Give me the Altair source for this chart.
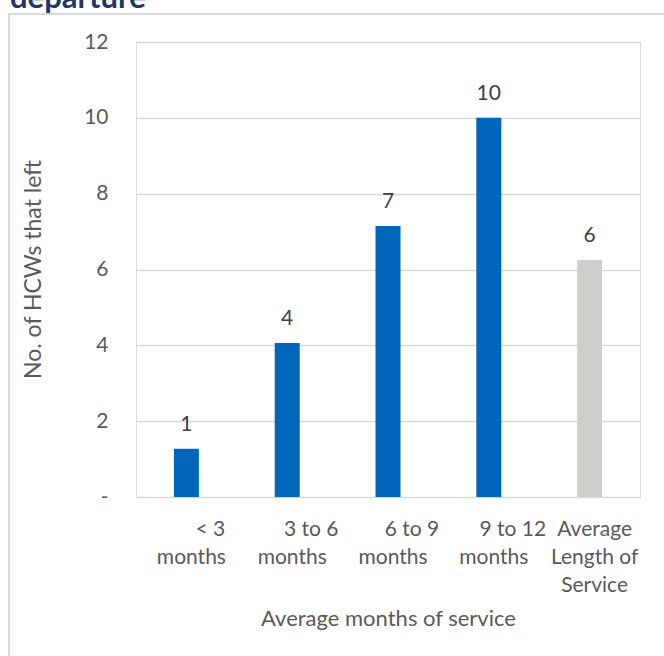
import altair as alt
import pandas as pd
import json

# ---- data ----
categories = ["< 3 months", "3 to 6 months", "6 to 9 months", "9 to 12 months", "Average Length of Service"]
values = [1.27, 4.06, 7.15, 10.0, 6.25]
value_labels = ["1", "4", "7", "10", "6"]
bar_colors = ["#0066BB", "#0066BB", "#0066BB", "#0066BB", "#D0CECB"]
# first label line (drawn shifted right, as in the reference)
tick_line1 = ["< 3", "3 to 6", "6 to 9", "9 to 12", ""]
# remaining label lines
tick_rest = [["", "months"], ["", "months"], ["", "months"], ["", "months"],
             ["Average", "Length of", "Service"]]
y_ticks = [0, 2, 4, 6, 8, 10, 12]
title_text = "departure"

FONT = "Lato"
AXIS_COLOR = "#595959"
GRID = "#D9D9D9"

df = pd.DataFrame({
    "category": categories,
    "value": values,
    "label": value_labels,
    "color": bar_colors,
})

expr1 = f"{json.dumps(dict(zip(categories, tick_line1)))}[datum.value]"
expr2 = f"{json.dumps(dict(zip(categories, tick_rest)))}[datum.value]"

common_axis = dict(
    labelAngle=0,
    labelFont=FONT,
    labelFontSize=21,
    labelColor=AXIS_COLOR,
    labelLineHeight=28,
    labelPadding=21,
    labelAlign="center",
    labelBaseline="top",
    domain=False,
    ticks=False,
    grid=False,
    orient="bottom",
)

x_scale = alt.Scale(paddingInner=0.75, paddingOuter=0.375)

x_enc_a = alt.X(
    "category:N", sort=categories, scale=x_scale,
    axis=alt.Axis(title=None, labelExpr=expr1, labelOffset=24, **common_axis),
)
x_enc_b = alt.X(
    "category:N", sort=categories, scale=x_scale,
    axis=alt.Axis(
        title="Average months of service",
        labelExpr=expr2,
        labelOffset=5,
        titleFont=FONT,
        titleFontSize=22,
        titleFontWeight="normal",
        titleColor=AXIS_COLOR,
        titleBaseline="alphabetic",
        titleY=128,
        titleX=252,
        **common_axis,
    ),
)

y_enc = alt.Y(
    "value:Q",
    scale=alt.Scale(domain=[0, 12], nice=False),
    axis=alt.Axis(
        title="No. of HCWs that left",
        values=y_ticks,
        labelExpr="datum.value == 0 ? '-' : datum.label",
        labelFont=FONT,
        labelFontSize=21,
        labelColor=AXIS_COLOR,
        labelPadding=28,
        domain=False,
        ticks=False,
        grid=True,
        gridColor=GRID,
        gridWidth=1.3,
        titleFont=FONT,
        titleFontSize=23,
        titleFontWeight="normal",
        titleColor=AXIS_COLOR,
        titleAngle=-90,
        titleBaseline="alphabetic",
        titleAlign="center",
        titleX=-96,
        titleY=227,
    ),
)

base = alt.Chart(df)

bars = base.mark_bar(size=25).encode(
    x=x_enc_a,
    y=y_enc,
    color=alt.Color("color:N", scale=None),
)

texts = base.mark_text(
    font=FONT, fontSize=21, color="#404040", baseline="alphabetic", dy=-18
).encode(
    x=x_enc_b,
    y="value:Q",
    text="label:N",
)

one = pd.DataFrame({"t": [title_text]})
frame = alt.Chart(one).mark_rect(
    fill="transparent", stroke="#D9D9D9", strokeWidth=2
).encode(
    x=alt.value(-127), x2=alt.value(620), y=alt.value(-28), y2=alt.value(700)
)

title = alt.Chart(one).mark_text(
    font=FONT, fontSize=31, fontWeight="bold", color="#1F3864",
    align="left", baseline="alphabetic"
).encode(
    x=alt.value(-126), y=alt.value(-34), text="t:N"
)

chart = alt.layer(frame, bars, texts, title).resolve_axis(x="independent").properties(
    width=504,
    height=455,
    padding={"left": 136, "top": 42, "right": 24, "bottom": 159},
    autosize=alt.AutoSizeParams(type="none"),
).configure_view(stroke=None).configure(background="white")

chart.save("out.html", embed_options={"renderer": "svg", "actions": False})
